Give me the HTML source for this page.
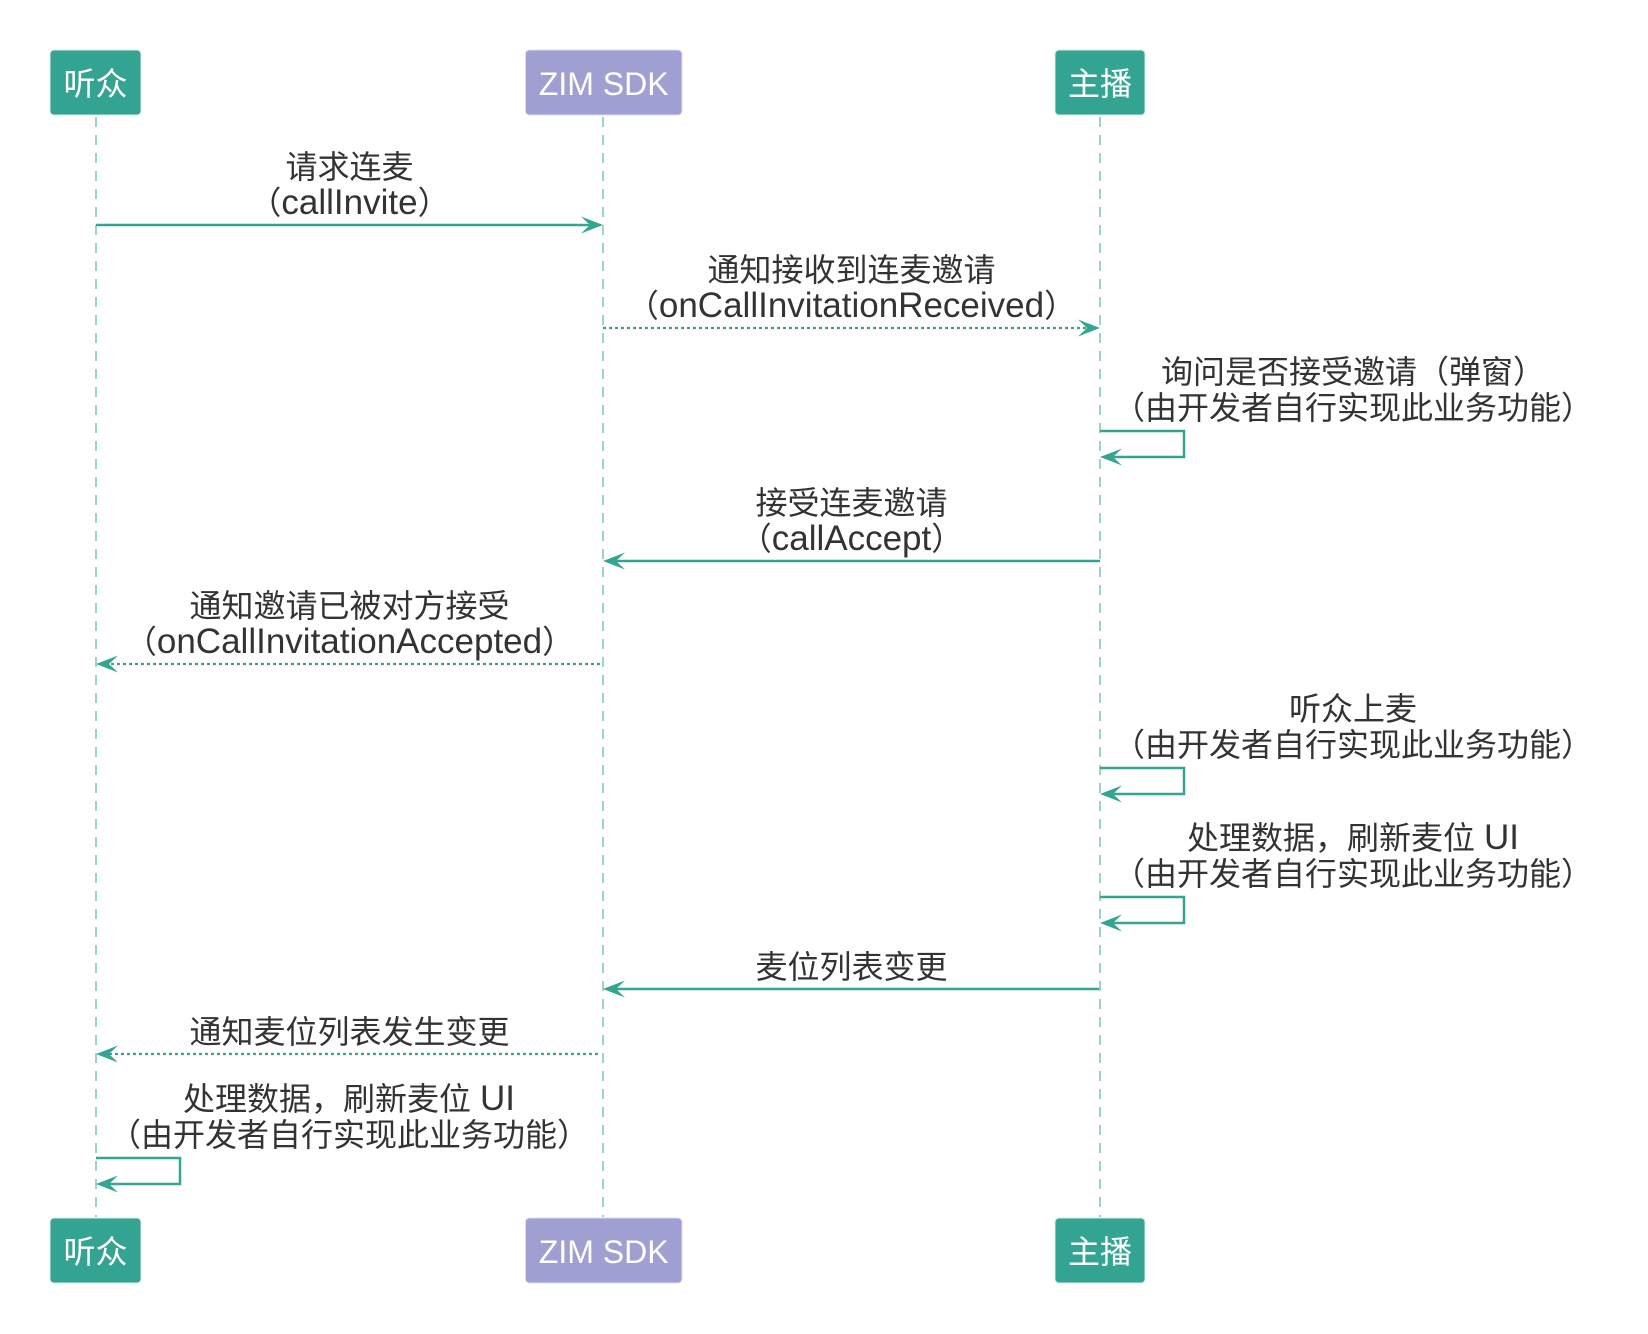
<!DOCTYPE html>
<html>
<head>
<meta charset="utf-8">
<style>
  html, body { margin: 0; padding: 0; background: #ffffff; }
  svg { display: block; }
  .t { font-family: "Liberation Sans", "Noto Sans CJK SC", sans-serif; font-size: 32px; fill: #333333; text-anchor: middle; }
  .lat { font-size: 35px; }
  .bx { font-family: "Liberation Sans", "Noto Sans CJK SC", sans-serif; font-size: 32px; fill: #ffffff; text-anchor: middle; }
  .life { stroke: #9dd3c8; stroke-width: 2; stroke-dasharray: 10 8; fill: none; }
  .msg { stroke: #35a491; stroke-width: 2.5; fill: none; }
  .dot { stroke: #35a491; stroke-width: 2.2; stroke-dasharray: 3 3; fill: none; }
  .ah { fill: #35a491; }
</style>
</head>
<body>
<svg width="1648" height="1334" viewBox="0 0 1648 1334" xmlns="http://www.w3.org/2000/svg">
  <rect x="0" y="0" width="1648" height="1334" fill="#ffffff"/>

  <!-- lifelines -->
  <line class="life" x1="96" y1="117" x2="96" y2="1217"/>
  <line class="life" x1="603" y1="117" x2="603" y2="1217"/>
  <line class="life" x1="1100" y1="117" x2="1100" y2="1217"/>

  <!-- top boxes -->
  <rect x="50" y="50" width="91" height="65" rx="4" ry="4" fill="#34a492" stroke="#d6ece8" stroke-width="1"/>
  <text class="bx" x="95.5" y="95">听众</text>
  <rect x="525.5" y="50" width="156.5" height="65" rx="4" ry="4" fill="#a09fd2" stroke="#dcdcf0" stroke-width="1"/>
  <text class="bx" x="603.7" y="95">ZIM SDK</text>
  <rect x="1055" y="50" width="90" height="65" rx="4" ry="4" fill="#34a492" stroke="#d6ece8" stroke-width="1"/>
  <text class="bx" x="1100" y="95">主播</text>

  <!-- bottom boxes -->
  <rect x="50" y="1218" width="91" height="65" rx="4" ry="4" fill="#34a492" stroke="#d6ece8" stroke-width="1"/>
  <text class="bx" x="95.5" y="1263">听众</text>
  <rect x="525.5" y="1218" width="156.5" height="65" rx="4" ry="4" fill="#a09fd2" stroke="#dcdcf0" stroke-width="1"/>
  <text class="bx" x="603.7" y="1263">ZIM SDK</text>
  <rect x="1055" y="1218" width="90" height="65" rx="4" ry="4" fill="#34a492" stroke="#d6ece8" stroke-width="1"/>
  <text class="bx" x="1100" y="1263">主播</text>

  <!-- 1: callInvite -->
  <text class="t" x="349.5" y="178">请求连麦</text>
  <text class="t" x="349.5" y="214">（<tspan class="lat">callInvite</tspan>）</text>
  <line class="msg" x1="96" y1="225" x2="590" y2="225"/>
  <path class="ah" d="M603 225 L581 216.5 L590 225 L581 233.5 Z"/>

  <!-- 2: onCallInvitationReceived -->
  <text class="t" x="851.5" y="281">通知接收到连麦邀请</text>
  <text class="t" x="851.5" y="317">（<tspan class="lat">onCallInvitationReceived</tspan>）</text>
  <line class="dot" x1="603" y1="328" x2="1088" y2="328"/>
  <path class="ah" d="M1100 328 L1078 319.5 L1087 328 L1078 336.5 Z"/>

  <!-- 3: self loop on host -->
  <text class="t" x="1353" y="383">询问是否接受邀请（弹窗）</text>
  <text class="t" x="1353" y="419">（由开发者自行实现此业务功能）</text>
  <path class="msg" d="M1100 431 H1184 V457 H1112"/>
  <path class="ah" d="M1100 457 L1122 448.5 L1113 457 L1122 465.5 Z"/>

  <!-- 4: callAccept -->
  <text class="t" x="851.5" y="514">接受连麦邀请</text>
  <text class="t" x="851.5" y="550">（<tspan class="lat">callAccept</tspan>）</text>
  <line class="msg" x1="1100" y1="561" x2="615" y2="561"/>
  <path class="ah" d="M603 561 L625 552.5 L616 561 L625 569.5 Z"/>

  <!-- 5: onCallInvitationAccepted -->
  <text class="t" x="349.5" y="617">通知邀请已被对方接受</text>
  <text class="t" x="349.5" y="653">（<tspan class="lat">onCallInvitationAccepted</tspan>）</text>
  <line class="dot" x1="600" y1="664" x2="108" y2="664"/>
  <path class="ah" d="M96 664 L118 655.5 L109 664 L118 672.5 Z"/>

  <!-- 6: self loop host -->
  <text class="t" x="1353" y="720">听众上麦</text>
  <text class="t" x="1353" y="756">（由开发者自行实现此业务功能）</text>
  <path class="msg" d="M1100 768 H1184 V794 H1112"/>
  <path class="ah" d="M1100 794 L1122 785.5 L1113 794 L1122 802.5 Z"/>

  <!-- 7: self loop host -->
  <text class="t" x="1353" y="849">处理数据，刷新麦位 <tspan class="lat">UI</tspan></text>
  <text class="t" x="1353" y="885">（由开发者自行实现此业务功能）</text>
  <path class="msg" d="M1100 897 H1184 V923 H1112"/>
  <path class="ah" d="M1100 923 L1122 914.5 L1113 923 L1122 931.5 Z"/>

  <!-- 8: seat list change -->
  <text class="t" x="851.5" y="978">麦位列表变更</text>
  <line class="msg" x1="1099" y1="989" x2="615" y2="989"/>
  <path class="ah" d="M603 989 L625 980.5 L616 989 L625 997.5 Z"/>

  <!-- 9: notify seat list changed -->
  <text class="t" x="349.5" y="1043">通知麦位列表发生变更</text>
  <line class="dot" x1="598" y1="1054" x2="108" y2="1054"/>
  <path class="ah" d="M96 1054 L118 1045.5 L109 1054 L118 1062.5 Z"/>

  <!-- 10: self loop audience -->
  <text class="t" x="349" y="1110">处理数据，刷新麦位 <tspan class="lat">UI</tspan></text>
  <text class="t" x="349" y="1146">（由开发者自行实现此业务功能）</text>
  <path class="msg" d="M96 1158 H180 V1184 H108"/>
  <path class="ah" d="M96 1184 L118 1175.5 L109 1184 L118 1192.5 Z"/>
</svg>
</body>
</html>
